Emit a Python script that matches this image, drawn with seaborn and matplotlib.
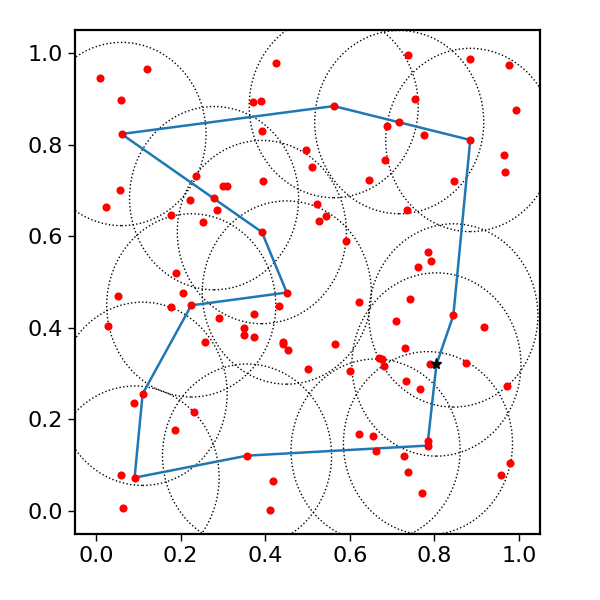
import matplotlib
matplotlib.use("Agg")
import matplotlib.pyplot as plt
import seaborn as sns
import pandas as pd
from matplotlib.patches import Circle

# scattered red points
pts_x = [0.009, 0.121, 0.059, 0.060, 0.056, 0.425, 0.371, 0.390, 0.392, 0.496,
         0.510, 0.237, 0.299, 0.310, 0.394, 0.279, 0.223, 0.023, 0.178, 0.285,
         0.253, 0.392, 0.188, 0.206, 0.051, 0.451, 0.176, 0.225, 0.432, 0.373,
         0.291, 0.027, 0.350, 0.350, 0.373, 0.441, 0.442, 0.453, 0.258, 0.502,
         0.738, 0.884, 0.976, 0.754, 0.994, 0.562, 0.717, 0.688, 0.776, 0.885,
         0.965, 0.968, 0.684, 0.646, 0.846, 0.523, 0.543, 0.528, 0.736, 0.590,
         0.784, 0.792, 0.761, 0.623, 0.743, 0.845, 0.710, 0.917, 0.566, 0.731,
         0.669, 0.676, 0.681, 0.790, 0.874, 0.601, 0.733, 0.766, 0.973, 0.623,
         0.656, 0.661, 0.785, 0.785, 0.728, 0.738, 0.771, 0.980, 0.957, 0.110,
         0.089, 0.232, 0.187, 0.058, 0.091, 0.063, 0.357, 0.418, 0.411]
pts_y = [0.946, 0.965, 0.898, 0.823, 0.701, 0.979, 0.893, 0.895, 0.830, 0.788,
         0.751, 0.731, 0.709, 0.709, 0.720, 0.683, 0.680, 0.663, 0.646, 0.657,
         0.631, 0.609, 0.519, 0.477, 0.469, 0.477, 0.445, 0.449, 0.447, 0.431,
         0.421, 0.403, 0.399, 0.384, 0.379, 0.369, 0.364, 0.351, 0.369, 0.310,
         0.996, 0.987, 0.974, 0.900, 0.876, 0.884, 0.849, 0.841, 0.821, 0.810,
         0.777, 0.741, 0.766, 0.723, 0.720, 0.670, 0.644, 0.633, 0.657, 0.589,
         0.565, 0.545, 0.532, 0.456, 0.462, 0.427, 0.414, 0.401, 0.364, 0.357,
         0.335, 0.333, 0.316, 0.322, 0.324, 0.305, 0.283, 0.266, 0.274, 0.169,
         0.163, 0.132, 0.154, 0.143, 0.121, 0.086, 0.040, 0.105, 0.079, 0.256,
         0.235, 0.217, 0.178, 0.079, 0.073, 0.007, 0.121, 0.066, 0.003]

# blue route, starting and ending at the star
route_x = [0.805, 0.845, 0.885, 0.562, 0.060, 0.392, 0.451, 0.225, 0.110,
           0.091, 0.357, 0.785, 0.785, 0.805]
route_y = [0.320, 0.427, 0.810, 0.884, 0.823, 0.609, 0.477, 0.449, 0.256,
           0.073, 0.121, 0.143, 0.154, 0.320]

star_x, star_y = 0.805, 0.320

# dotted circle centres, radius 0.2
circ_x = [0.060, 0.279, 0.392, 0.562, 0.717, 0.885, 0.451, 0.225, 0.110,
          0.091, 0.357, 0.661, 0.785, 0.845, 0.805]
circ_y = [0.823, 0.683, 0.609, 0.884, 0.849, 0.810, 0.477, 0.449, 0.256,
          0.073, 0.121, 0.132, 0.148, 0.427, 0.320]
radius = 0.2

sns.set_style("ticks", {"axes.edgecolor": "black", "xtick.color": "black",
                        "ytick.color": "black"})
plt.rcParams["font.family"] = ["DejaVu Sans"]

df_pts = pd.DataFrame({"x": pts_x, "y": pts_y})
df_route = pd.DataFrame({"x": route_x, "y": route_y, "step": range(len(route_x))})

fig, ax = plt.subplots(figsize=(6, 6), dpi=100)
fig.subplots_adjust(left=0.125, right=0.9, bottom=0.11, top=0.95)

for cx, cy in zip(circ_x, circ_y):
    ax.add_patch(Circle((cx, cy), radius, fill=False, linestyle=":",
                        edgecolor="black", linewidth=1.0, zorder=1))

sns.lineplot(data=df_route, x="x", y="y", sort=False, estimator=None,
             color="#1f77b4", linewidth=1.8, ax=ax, zorder=2)
sns.scatterplot(data=df_pts, x="x", y="y", color="red", s=34, linewidth=0,
                ax=ax, zorder=3)
ax.plot([star_x], [star_y], marker="*", color="black", markersize=8,
        linestyle="none", zorder=4)

ax.set_xlim(-0.05, 1.05)
ax.set_ylim(-0.05, 1.05)
ax.set_xticks([0.0, 0.2, 0.4, 0.6, 0.8, 1.0])
ax.set_yticks([0.0, 0.2, 0.4, 0.6, 0.8, 1.0])
ax.set_xlabel("")
ax.set_ylabel("")
ax.tick_params(labelsize=16, length=5, width=1)
for sp in ax.spines.values():
    sp.set_linewidth(1.6)
    sp.set_visible(True)

fig.savefig("out.png", dpi=100)
